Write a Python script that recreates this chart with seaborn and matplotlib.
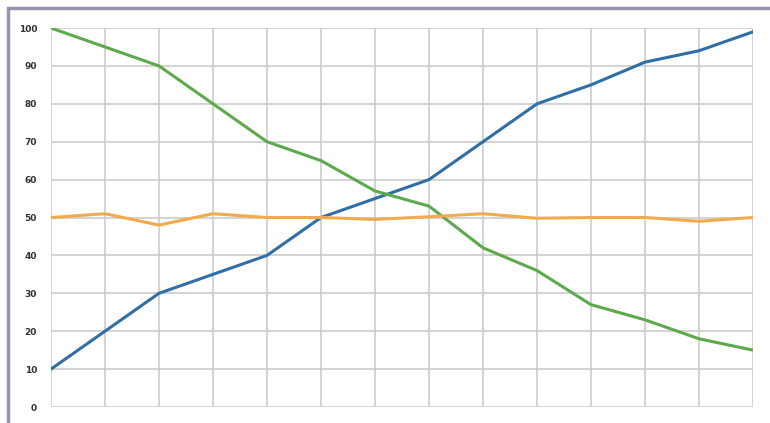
import seaborn as sns
import matplotlib.pyplot as plt
import pandas as pd
from matplotlib.patches import Rectangle

# values
steps = list(range(14))
blue = [10, 20, 30, 35, 40, 50, 55, 60, 70, 80, 85, 91, 94, 99]
green = [100, 95, 90, 80, 70, 65, 57, 53, 42, 36, 27, 23, 18, 15]
orange = [50, 51, 48, 51, 50, 50, 49.5, 50.2, 51, 49.8, 50, 50, 49, 50]
y_ticks = [0, 10, 20, 30, 40, 50, 60, 70, 80, 90, 100]

df = pd.DataFrame({"step": steps, "blue": blue, "green": green, "orange": orange})
long = df.melt(id_vars="step", var_name="series", value_name="value")

palette = {"blue": "#2f6ea6", "green": "#5caa4c", "orange": "#f2aa4c"}

sns.set_style("white")
fig = plt.figure(figsize=(7.7, 4.23), dpi=100)
ax = fig.add_axes([0.0662, 0.0378, 0.9118, 0.896])

sns.lineplot(data=long, x="step", y="value", hue="series", palette=palette,
             linewidth=2.2, legend=False, ax=ax, zorder=3)

ax.set_xlim(0, 13)
ax.set_ylim(0, 100)
ax.set_xticks(steps)
ax.set_yticks(y_ticks)
ax.set_xticklabels([])
ax.set_xlabel("")
ax.set_ylabel("")
ax.grid(True, color="#cccccc", linewidth=1.2)
ax.tick_params(length=0, labelsize=6.5, labelcolor="#333333", pad=10)
for lbl in ax.get_yticklabels():
    lbl.set_fontweight("bold")
for s in ax.spines.values():
    s.set_visible(False)

# outer frame visible at top and left
fig.patches.append(Rectangle((8 / 770, -0.05), 1.2, 1 - 8 / 423 + 0.05,
                             transform=fig.transFigure, fill=False,
                             edgecolor="#9893aa", linewidth=2.5))

fig.savefig("out.png", dpi=100)
